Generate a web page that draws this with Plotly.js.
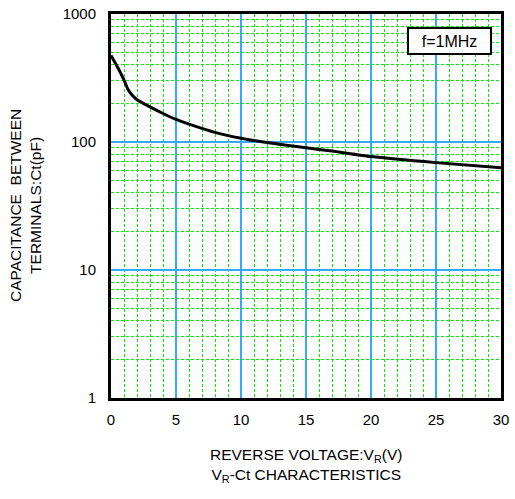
<!DOCTYPE html>
<html>
<head>
<meta charset="utf-8">
<script src="https://cdn.plot.ly/plotly-3.0.1.min.js"></script>
<style>html,body{margin:0;padding:0;background:#fff;}#chart{width:515px;height:499px;}</style>
</head>
<body>
<div id="chart"></div>
<script>
// Reverse voltage (V)
const reverseVoltage = [0, 0.5, 1, 1.3, 1.6, 2, 3, 4, 5, 6, 8, 10, 12, 15, 17, 20, 25, 30];
// Capacitance between terminals (pF)
const capacitance = [475, 385, 305, 258, 234, 214, 188, 167, 150, 138, 119, 107, 99, 90, 85, 77, 69, 63];
const xTicks = [0, 5, 10, 15, 20, 25, 30];
const yTicks = [1, 10, 100, 1000];
const xTitle = 'REVERSE VOLTAGE:V<sub>R</sub>(V)<br>V<sub>R</sub>-Ct CHARACTERISTICS';
const yTitle = 'CAPACITANCE  BETWEEN<br>TERMINALS:Ct(pF)';
const annotationText = 'f=1MHz';

const font = {family: 'Liberation Sans, Arial, sans-serif', color: '#000'};
const f = (s) => Object.assign({size: s}, font);

const trace = {
  x: reverseVoltage,
  y: capacitance,
  type: 'scatter',
  mode: 'lines',
  line: {color: '#000', width: 3, shape: 'spline', smoothing: 0.5},
  hoverinfo: 'skip'
};

const layout = {
  width: 515,
  height: 499,
  margin: {l: 111, r: 14, t: 14, b: 101},
  paper_bgcolor: '#fff',
  plot_bgcolor: '#fff',
  showlegend: false,
  font: f(15),
  xaxis: {
    range: [0, 30],
    tickvals: xTicks,
    ticktext: xTicks.map(String),
    ticks: 'outside',
    ticklen: 6,
    tickcolor: 'rgba(0,0,0,0)',
    tickfont: f(15),
    showgrid: true,
    gridcolor: '#33aaff',
    gridwidth: 1.5,
    minor: {dtick: 1, showgrid: true, gridcolor: '#00f000', griddash: '3px,2px', gridwidth: 1, ticks: ''},
    showline: true,
    linecolor: '#000',
    linewidth: 3,
    mirror: true,
    zeroline: false
  },
  yaxis: {
    type: 'log',
    range: [0, 3],
    tickvals: yTicks,
    ticktext: yTicks.map(String),
    ticks: 'outside',
    ticklen: 9,
    tickcolor: 'rgba(0,0,0,0)',
    tickfont: f(15),
    showgrid: true,
    gridcolor: '#33aaff',
    gridwidth: 1.5,
    minor: {dtick: 'D1', showgrid: true, gridcolor: '#00f000', griddash: '3px,2px', gridwidth: 1, ticks: ''},
    showline: true,
    linecolor: '#000',
    linewidth: 3,
    mirror: true,
    zeroline: false
  },
  annotations: [
    {
      x: 26.04, y: 2.791, xref: 'x', yref: 'y',
      text: annotationText,
      showarrow: false,
      font: f(16),
      bgcolor: '#fff',
      bordercolor: '#000',
      borderwidth: 2,
      borderpad: 1,
      width: 79,
      height: 22
    },
    {
      x: 0.5, y: -0.176, xref: 'paper', yref: 'paper',
      xanchor: 'center', yanchor: 'middle',
      text: xTitle,
      showarrow: false,
      font: f(15.5)
    },
    {
      x: -0.2205, y: 0.5, xref: 'paper', yref: 'paper',
      xanchor: 'center', yanchor: 'middle',
      textangle: -90,
      text: yTitle,
      showarrow: false,
      font: f(15.5)
    }
  ]
};

Plotly.newPlot('chart', [trace], layout, {staticPlot: true, displayModeBar: false});
</script>
</body>
</html>
